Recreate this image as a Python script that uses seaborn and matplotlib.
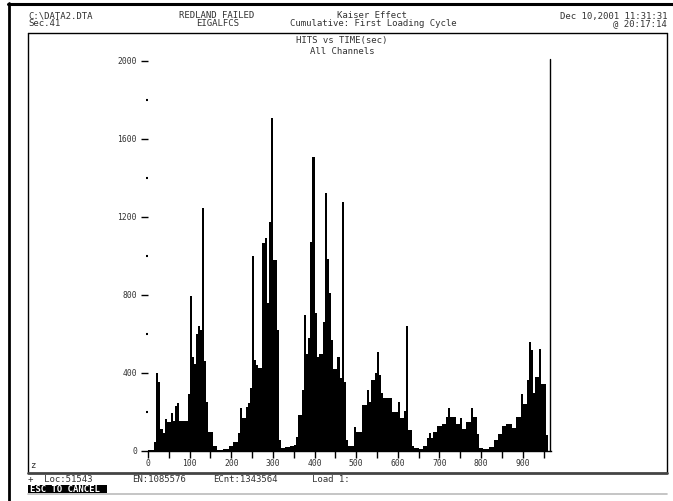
import numpy as np
import pandas as pd
import matplotlib
matplotlib.use("Agg")
import matplotlib.pyplot as plt
from matplotlib.lines import Line2D
from matplotlib.patches import Rectangle
import seaborn as sns

# ---------------- data ----------------
BIN_WIDTH = 5  # seconds per histogram bin
hits = [
    5, 5, 5, 48, 400, 355, 113, 92, 164, 150,
    150, 193, 155, 232, 245, 155, 155, 155, 155, 292,
    795, 484, 445, 600, 643, 620, 1245, 460, 253, 99,
    99, 27, 27, 5, 5, 5, 10, 10, 10, 25,
    25, 48, 48, 92, 220, 170, 170, 225, 245, 323,
    1000, 467, 440, 425, 425, 1067, 1092, 758, 1175, 1707,
    980, 980, 620, 56, 15, 15, 20, 20, 25, 25,
    30, 70, 185, 185, 313, 700, 500, 580, 1072, 1508,
    707, 482, 500, 500, 662, 1323, 985, 810, 570, 420,
    420, 482, 374, 1277, 354, 55, 25, 25, 25, 125,
    100, 100, 100, 235, 235, 313, 250, 365, 365, 400,
    510, 390, 300, 270, 270, 270, 270, 200, 200, 200,
    250, 170, 170, 205, 640, 110, 110, 25, 15, 15,
    10, 10, 25, 25, 65, 90, 65, 100, 100, 130,
    130, 140, 140, 175, 220, 175, 175, 175, 140, 140,
    170, 115, 115, 150, 150, 220, 175, 175, 85, 15,
    15, 8, 8, 8, 20, 20, 55, 55, 85, 85,
    130, 130, 140, 140, 140, 120, 120, 175, 175, 290,
    240, 240, 365, 560, 520, 300, 380, 380, 525, 345,
    345, 80,
]
cursor_time = 965
x_major = [0, 100, 200, 300, 400, 500, 600, 700, 800, 900]
x_minor = [50, 150, 250, 350, 450, 550, 650, 750, 850, 950]
y_major = [0, 400, 800, 1200, 1600, 2000]
y_minor = [200, 600, 1000, 1400, 1800]

header_left = ["C:\\DATA2.DTA", "Sec.41"]
header_mid = ["REDLAND FAILED", "EIGALFCS"]
header_title = ["Kaiser Effect", "Cumulative: First Loading Cycle"]
header_right = ["Dec 10,2001 11:31:31", "@ 20:17:14"]
plot_title = ["HITS vs TIME(sec)", "All Channels"]
status_items = [("+  Loc:51543", 28), ("EN:1085576", 132), ("ECnt:1343564", 213), ("Load 1:", 312)]
cancel_text = "ESC TO CANCEL"

# ---------------- figure ----------------
W, H = 673, 501
sns.set_style("white")
plt.rcParams["font.family"] = ["DejaVu Sans Mono"]
fig = plt.figure(figsize=(W / 100, H / 100), dpi=100)
fig.patch.set_facecolor("white")

def fx(x):
    return x / W

def fy(y):
    return 1 - y / H

def hline(x0, x1, y, lw=1.0, color="black"):
    fig.add_artist(Line2D([fx(x0), fx(x1)], [fy(y), fy(y)], lw=lw, color=color,
                          transform=fig.transFigure))

def vline(x, y0, y1, lw=1.0, color="black"):
    fig.add_artist(Line2D([fx(x), fx(x)], [fy(y0), fy(y1)], lw=lw, color=color,
                          transform=fig.transFigure))

TXT = dict(fontsize=6.5, color="#333333", transform=fig.transFigure, va="center")

# outer frame
hline(8, 673, 3.5, lw=2.2)
vline(8.5, 3, 501, lw=2.0)
# inner panel
hline(28, 667, 33, lw=1.0)
vline(28, 33, 473, lw=1.0)
vline(667, 33, 473, lw=1.0)
hline(28, 667, 472.5, lw=2.0, color="#444444")
hline(28, 667, 493.5, lw=1.2, color="#bbbbbb")

# header texts
fig.text(fx(28), fy(16), header_left[0], ha="left", **TXT)
fig.text(fx(28), fy(24), header_left[1], ha="left", **TXT)
fig.text(fx(217), fy(16), header_mid[0], ha="center", **TXT)
fig.text(fx(218), fy(24), header_mid[1], ha="center", **TXT)
fig.text(fx(372), fy(16), header_title[0], ha="center", **TXT)
fig.text(fx(373), fy(24), header_title[1], ha="center", **TXT)
fig.text(fx(667), fy(16), header_right[0], ha="right", **TXT)
fig.text(fx(667), fy(24), header_right[1], ha="right", **TXT)
fig.text(fx(342), fy(40), plot_title[0], ha="center", **TXT)
fig.text(fx(342), fy(52), plot_title[1], ha="center", **TXT)

# status line
for label, xpos in status_items:
    fig.text(fx(xpos), fy(479), label, ha="left", **TXT)
fig.text(fx(30), fy(466), "z", ha="left", **TXT)
fig.add_artist(Rectangle((fx(28), fy(493)), fx(107) - fx(28), fy(485) - fy(493),
                         facecolor="black", edgecolor="none", transform=fig.transFigure))
fig.text(fx(30), fy(489), cancel_text, ha="left", fontsize=6.5, color="white",
         transform=fig.transFigure, va="center", fontweight="bold")

# ---------------- axes ----------------
ax = fig.add_axes([fx(148), fy(451), fx(551) - fx(148), fy(61) - fy(451)])
ax.set_facecolor("none")
df = pd.DataFrame({"time": np.arange(len(hits)) * BIN_WIDTH + BIN_WIDTH / 2,
                   "hits": hits})
sns.barplot(data=df, x="time", y="hits", native_scale=True, width=1.0,
            color="black", saturation=1, linewidth=0, errorbar=None, ax=ax)
ax.plot([cursor_time, cursor_time], [0, 2010], color="black", lw=1.0, clip_on=False)

ax.set_xlim(0, 968)
ax.set_ylim(0, 2000)
for s in ["top", "right", "left"]:
    ax.spines[s].set_visible(False)
ax.spines["bottom"].set_color("black")
ax.spines["bottom"].set_linewidth(1.0)

ax.set_xticks(x_major)
ax.set_xticklabels([str(v) for v in x_major])
ax.set_xticks(x_minor, minor=True)
ax.set_yticks(y_major)
ax.set_yticklabels([str(v) for v in y_major])
ax.set_yticks(y_minor, minor=True)
ax.tick_params(axis="x", which="major", direction="out", length=5, width=1,
               labelsize=5.8, pad=1, colors="black", labelcolor="#333333", bottom=True)
ax.tick_params(axis="x", which="minor", direction="out", length=5, width=1,
               colors="black", bottom=True)
ax.tick_params(axis="y", which="major", direction="out", length=5, width=1,
               labelsize=5.8, pad=3, colors="black", labelcolor="#333333", left=True)
ax.tick_params(axis="y", which="minor", direction="out", length=1.5, width=1.5,
               colors="black", left=True)
ax.set_xlabel("")
ax.set_ylabel("")

fig.savefig("out.png", dpi=100, facecolor="white")
